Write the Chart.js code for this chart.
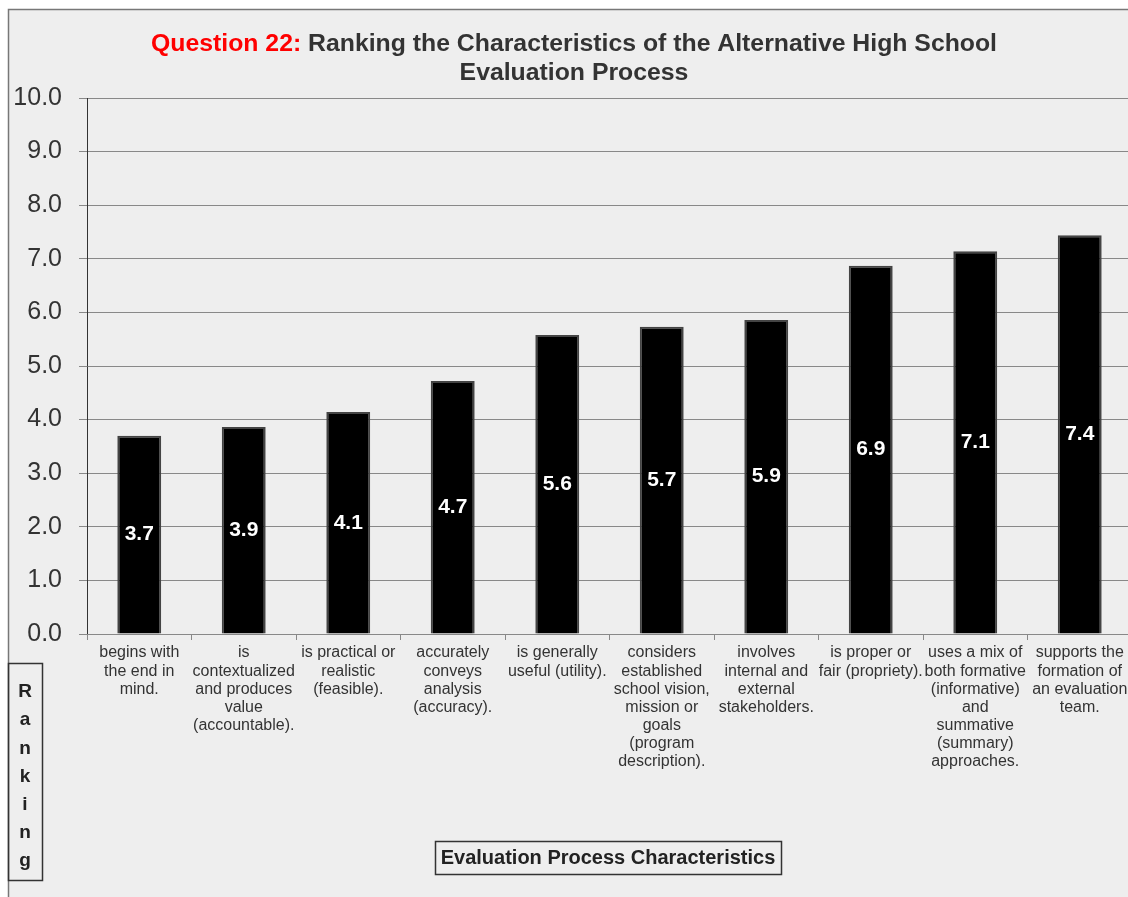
<!DOCTYPE html>
<html lang="en">
<head>
  <meta charset="UTF-8" />
  <title>Question 22</title>
  <script src="https://cdn.jsdelivr.net/npm/chart.js"></script>
  <style>
    html, body { margin: 0; padding: 0; background: #fff; overflow: hidden; }
    #wrap { position: absolute; left: 0; top: 0; width: 1140px; height: 897px; }
  </style>
</head>
<body>
  <div id="wrap"><canvas id="rankChart"></canvas></div>

  <script>
    // chart data
    const categories = [
      ["begins with", "the end in", "mind."],
      ["is", "contextualized", "and produces", "value", "(accountable)."],
      ["is practical or", "realistic", "(feasible)."],
      ["accurately", "conveys", "analysis", "(accuracy)."],
      ["is generally", "useful (utility)."],
      ["considers", "established", "school vision,", "mission or", "goals", "(program", "description)."],
      ["involves", "internal and", "external", "stakeholders."],
      ["is proper or", "fair (propriety)."],
      ["uses a mix of", "both formative", "(informative)", "and", "summative", "(summary)", "approaches."],
      ["supports the", "formation of", "an evaluation", "team."]
    ];
    const rankings = [3.70, 3.86, 4.14, 4.72, 5.58, 5.73, 5.86, 6.87, 7.14, 7.44];
    const yTicks = [0, 1, 2, 3, 4, 5, 6, 7, 8, 9, 10];

    const titleRed = "Question 22:";
    const titleLine1 = " Ranking the Characteristics of the Alternative High School";
    const titleLine2 = "Evaluation Process";
    const xTitle = "Evaluation Process Characteristics";
    const yTitle = "Ranking";

    const FONT = "'Liberation Sans', Arial, sans-serif";

    // background frame + titles
    const decor = {
      id: 'decor',
      beforeDraw(chart) {
        const c = chart.ctx;
        c.save();
        c.fillStyle = '#ffffff';
        c.fillRect(0, 0, chart.width, chart.height);
        c.fillStyle = '#eeeeee';
        c.fillRect(8, 9, chart.width, chart.height);
        c.strokeStyle = '#777';
        c.lineWidth = 1.5;
        c.strokeRect(8.5, 9.5, chart.width + 20, chart.height + 20);
        c.restore();
      },
      afterDraw(chart) {
        const c = chart.ctx;
        c.save();
        c.textBaseline = 'middle';
        // title
        c.font = 'bold 24.8px ' + FONT;
        const w1 = c.measureText(titleRed).width;
        const w2 = c.measureText(titleLine1).width;
        let x = 574 - (w1 + w2) / 2;
        c.textAlign = 'left';
        c.fillStyle = '#ff0000';
        c.fillText(titleRed, x, 44);
        c.fillStyle = '#333';
        c.fillText(titleLine1, x + w1, 44);
        c.textAlign = 'center';
        c.fillText(titleLine2, 574, 73);

        // x axis title box
        c.font = 'bold 20px ' + FONT;
        c.fillStyle = '#222';
        c.fillText(xTitle, 608, 858);
        c.strokeStyle = '#333';
        c.lineWidth = 1.5;
        c.strokeRect(435.5, 841.5, 346, 33);

        // y axis title, stacked letters
        c.font = 'bold 19px ' + FONT;
        c.strokeRect(8.5, 663.5, 34, 217);
        yTitle.split('').forEach((ch, i) => {
          c.fillText(ch, 25, 692 + i * 28.2);
        });
        c.restore();
      }
    };

    const barLabels = {
      id: 'barLabels',
      afterDatasetsDraw(chart) {
        const c = chart.ctx;
        const meta = chart.getDatasetMeta(0);
        c.save();
        c.font = 'bold 21px ' + FONT;
        c.fillStyle = '#ffffff';
        c.textAlign = 'center';
        c.textBaseline = 'middle';
        meta.data.forEach((bar, i) => {
          c.fillText(rankings[i].toFixed(1), bar.x, (bar.y + bar.base) / 2);
        });
        c.restore();
      }
    };

    const ctx = document.getElementById('rankChart').getContext('2d');
    new Chart(ctx, {
      type: 'bar',
      data: {
        labels: categories,
        datasets: [{
          data: rankings,
          backgroundColor: '#000000',
          borderColor: '#444444',
          borderWidth: 2,
          barPercentage: 0.42,
          categoryPercentage: 1
        }]
      },
      options: {
        responsive: true,
        maintainAspectRatio: false,
        animation: false,
        layout: { padding: { top: 98, right: 8, left: 0, bottom: 0 } },
        plugins: {
          legend: { display: false },
          tooltip: { enabled: false }
        },
        scales: {
          y: {
            min: 0,
            max: 10,
            afterFit(scale) { scale.width = 87; },
            afterBuildTicks(scale) { scale.ticks = yTicks.map(v => ({ value: v })); },
            border: { color: '#333', width: 1 },
            grid: { color: '#888', tickLength: 8, tickColor: '#888' },
            ticks: {
              padding: 17,
              color: '#333',
              font: { family: FONT, size: 25 },
              callback: v => Number(v).toFixed(1)
            }
          },
          x: {
            afterFit(scale) { scale.height = 897 - 634; },
            border: { color: '#888', width: 1 },
            grid: { display: true, drawOnChartArea: false, offset: true, tickLength: 6, color: '#888' },
            ticks: {
              padding: 4,
              color: '#333',
              maxRotation: 0,
              minRotation: 0,
              autoSkip: false,
              font: { family: FONT, size: 16, lineHeight: 1.13 }
            }
          }
        }
      },
      plugins: [decor, barLabels]
    });
  </script>
</body>
</html>
